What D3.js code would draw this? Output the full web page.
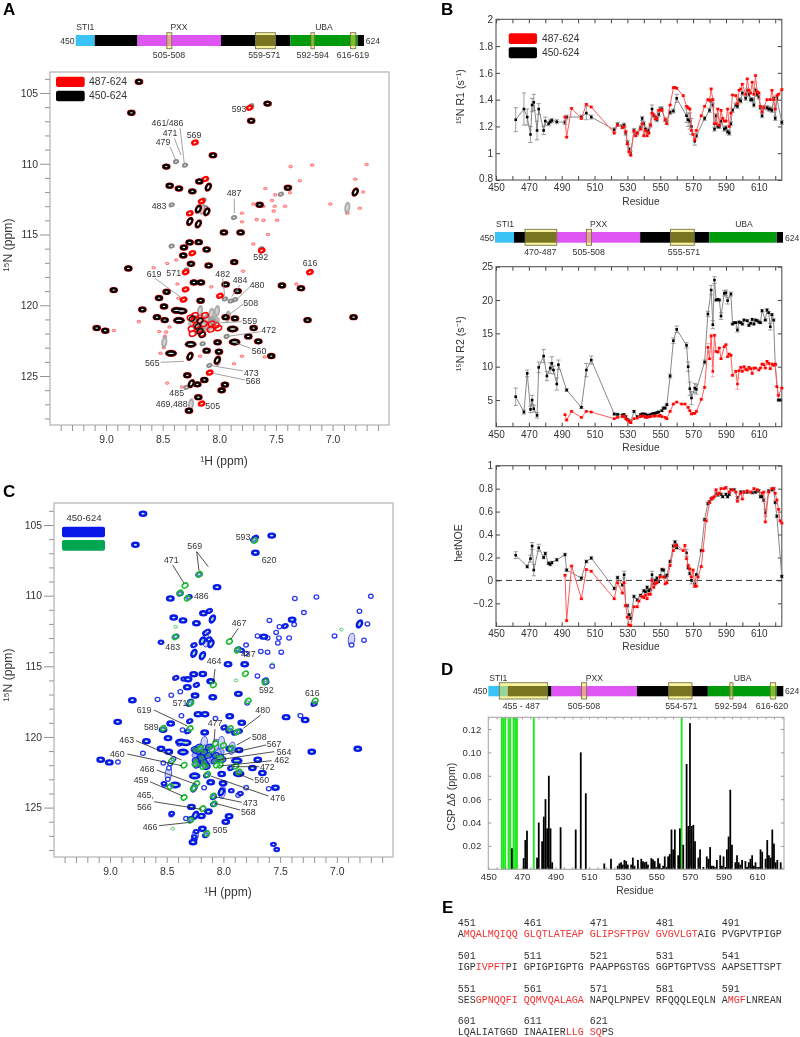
<!DOCTYPE html>
<html><head><meta charset="utf-8">
<script src="https://cdn.jsdelivr.net/npm/d3@7/dist/d3.min.js"></script>
<style>
html,body{margin:0;padding:0;background:#fff}
svg{display:block;font-family:"Liberation Sans",Arial,sans-serif;filter:blur(.3px)}
text{fill:#333}
</style></head><body><svg id="c" width="800" height="1037"></svg>
<script>
// ---------- HSQC peak tables: [1H ppm, 15N ppm] ----------
const peaksSharp=[[8.709,104.2],[7.574,105.75],[8.776,106.4],[7.718,106.96],[8.056,109.4],[8.468,110.2],[8.176,111.25],[8.438,111.55],[8.356,111.75],[8.238,111.95],[7.644,112.9],[7.959,114.85],[7.812,114.85],[7.394,111.7],[8.262,115.56],[8.182,115.54],[8.312,115.92],[8.112,116.06],[8.318,116.48],[8.25,117.07],[8.094,117.19],[7.868,116.95],[8.803,117.4],[8.224,118.39],[8.162,118.39],[7.944,118.53],[8.465,119.05],[8.932,118.93],[7.838,119.0],[7.447,118.6],[7.279,118.8],[8.532,119.49],[8.165,119.68],[8.488,120.08],[8.679,120.3],[8.55,120.84],[8.482,121.05],[7.944,120.84],[7.862,120.93],[6.815,120.84],[7.221,121.05],[9.082,121.61],[9.006,121.8],[7.697,121.61],[7.744,122.2],[7.656,122.55],[8.015,122.62],[8.112,123.21],[8.003,123.28],[7.541,123.59],[8.282,124.95],[8.194,125.59],[8.132,125.28],[7.95,125.61],[7.979,126.01],[8.185,126.5],[8.268,127.45]];
const peaksWide=[[8.376,120.36],[8.332,120.41],[8.356,121.07],[7.882,121.68],[8.426,123.4],[7.865,122.6],[8.253,122.76]];
const peaksTall=[[8.097,111.65],[6.8,112],[8.259,123.61],[8.018,123.89],[8.247,125.54],[8.26,114.08],[8.185,114.25],[8.11,113.4],[8.185,113.2]];
const peaksCluster=[[8.253,120.88],[8.215,121.02],[8.244,121.66],[8.235,122],[8.17,121.07],[8.135,121.31],[8.2,121.42],[8.176,121.73],[8.156,122],[8.067,121.31],[8.03,121.42],[8.076,121.71],[8.009,121.61],[8.126,120.72],[8.215,120.72],[8.15,122.08]];
const peaksClusterDark=[[8.19,121.5],[8.17,121.85],[8.15,122.1],[8.17,121.1],[8.24,120.95]];
const peaksRed=[[7.732,106.04],[8.215,108.5],[8.124,111.08],[8.156,112.65],[8.26,113.5],[7.626,116.13],[7.2,117.66],[8.297,117.66],[8.315,119.6],[7.994,119.33],[8.085,124.76],[8.156,126.95],[8.297,118.88],[8.238,116.32]];
const peaksGrey=[[8.382,109.85],[8.303,110.1],[7.87,113.8],[7.718,105.9],[8.42,112.9],[8.42,115.82],[8.147,122.72],[7.935,122.2],[8.088,124.25],[7.95,119.55],[7.9,119.7],[7.86,119.6],[7.456,112.15],[8.14,112.55],[8.126,113.1],[8.29,125.8],[7.63,116],[8.29,117.5]];
const peaksGreyTall=[[8.25,127],[8.17,120.4],[8.02,120.4],[8.07,120.6],[7.925,120.8],[8.485,122.6],[8.17,121],[8.11,120.95],[8.05,121.3],[8.2,121.7],[8.14,121.4],[8.01,123.9],[8.15,113.2],[6.87,113.1]];
const peaksBlob=[[8.2,121],[8.15,121],[8.1,121.15],[8.05,121.05],[8.18,121.5],[8.12,121.6],[8.22,121.3]];
const peaksFaint=[[7.37,110.2],[7.18,110.1],[6.7,110.05],[7.594,111.75],[7.506,112.2],[7.376,112.05],[7.535,112.6],[7.7,112.85],[7.61,113],[7.51,113],[7.52,113.35],[7.42,113],[7.67,113.95],[7.61,114],[7.49,114],[7.57,115],[7.8,113.5],[7.8,114.1],[7.02,112.85],[6.76,113.15],[6.73,112],[6.8,111.1],[6.87,113.5],[7.29,111.2],[8.58,117.35],[8.46,117.05],[8.38,116.8],[7.79,117.6],[8.37,118.5],[7.32,118.5],[8.36,119.5],[7.7,115.68],[8.71,121.16],[8.93,121.78],[8.53,121.85],[8.47,121.9],[8.44,121.54],[8.39,120.5],[8.49,123],[7.8,123.6],[7.87,124.13],[7.6,123.66],[8.52,123.4],[8.46,125.5],[8.33,125.78],[8.07,118.7],[8.17,123.6],[8.48,122.2]];
const peaksGreen=[[7.724,106.1],[8.212,108.49],[8.338,109.29],[8.382,109.8],[8.318,110.19],[8.426,112.92],[7.947,113.25],[7.876,113.87],[8.088,116.32],[7.632,116.11],[7.191,117.45],[7.806,115.52],[7.782,117.45],[8.288,117.59],[8.53,119.39],[8.294,119.41],[7.94,119.4],[7.88,119.65],[8.07,120.47],[7.93,120.8],[8.347,122],[8.456,121.7],[8.347,124.29],[8.47,123.5],[8.235,123.3],[8.265,123.65],[8.141,122.64],[8.088,124.17],[8.082,124.72],[8.182,125.07],[8.288,125.9],[8.147,126.84],[7.862,122.48],[7.891,122.08],[8.029,122],[8.25,121.9],[8.1,120.9],[8.2,120.8],[8.03,121.5],[8.06,122],[8.18,122.1],[8.0,120.6]];
const peaksGreenFaint=[[7.568,114.86],[8.588,117.29],[6.96,112.4],[7.33,118.44],[7.794,123.5],[8.447,126.5],[8.42,112.2],[7.89,116]];
const peaksBlueExtra=[[7.559,127.6],[7.53,127.97],[8.524,123.3],[8.456,125.42],[8.191,126.49],[8.256,127.07],[7.85,124],[7.93,123.8],[8.55,113.3],[7.84,113.87],[8.35,115.9],[8.26,127.3],[8.24,126.7]];

// ---------- relaxation tables ----------
const r1Black=[[462,1.25],[467,1.33],[469,1.27],[471,1.14],[472,1.36],[473,1.38],[475,1.17],[476,1.33],[479,1.17],[480,1.24],[482,1.22],[483,1.235],[484,1.245],[487,1.235],[492,1.23],[493,1.27],[502,1.27],[505,1.3],[508,1.27],[522,1.175],[524,1.215],[527,1.2],[528,1.21],[529,1.15],[530,1.08],[531,1.03],[532,1],[534,1.17],[535,1.14],[536,1.15],[538,1.19],[539,1.26],[540,1.22],[541,1.18],[542,1.16],[543,1.17],[544,1.21],[545,1.33],[546,1.28],[547,1.27],[548,1.25],[549,1.29],[550,1.33],[551,1.33],[553,1.25],[554,1.23],[556,1.305],[558,1.315],[560,1.41],[566,1.28],[567,1.25],[568,1.24],[569,1.2],[571,1.09],[572,1.13],[577,1.26],[580,1.32],[581,1.395],[582,1.36],[583,1.18],[584,1.28],[585,1.2],[586,1.2],[587,1.24],[589,1.18],[590,1.19],[591,1.16],[592,1.15],[593,1.22],[594,1.32],[596,1.36],[597,1.35],[598,1.4],[599,1.39],[600,1.45],[602,1.41],[603,1.47],[604,1.44],[605,1.4],[606,1.4],[607,1.36],[608,1.47],[609,1.44],[610,1.42],[611,1.34],[612,1.28],[613,1.34],[615,1.34],[616,1.33],[617,1.33],[618,1.32],[619,1.41],[620,1.26],[621,1.41],[624,1.23]];
const r1Red=[[492,1.27],[493,1.12],[496,1.335],[502,1.26],[505,1.365],[508,1.345],[522,1.15],[524,1.21],[527,1.19],[528,1.2],[529,1.16],[530,1.07],[531,1.01],[532,0.985],[534,1.165],[535,1.13],[536,1.15],[538,1.18],[539,1.22],[540,1.13],[541,1.17],[542,1.13],[543,1.15],[544,1.21],[545,1.3],[546,1.285],[547,1.255],[548,1.26],[549,1.32],[550,1.325],[551,1.32],[553,1.25],[554,1.22],[556,1.36],[558,1.49],[559,1.49],[560,1.485],[564,1.43],[566,1.35],[567,1.34],[568,1.33],[569,1.17],[570,1.14],[571,1.1],[572,1.17],[575,1.28],[577,1.35],[579,1.4],[580,1.395],[581,1.48],[582,1.4],[583,1.22],[584,1.22],[585,1.33],[586,1.21],[587,1.32],[588,1.26],[589,1.24],[590,1.24],[591,1.33],[592,1.2],[593,1.3],[594,1.435],[596,1.43],[597,1.37],[598,1.47],[599,1.48],[600,1.515],[602,1.44],[603,1.555],[604,1.47],[605,1.45],[606,1.53],[607,1.44],[608,1.58],[609,1.46],[610,1.45],[611,1.35],[612,1.31],[613,1.34],[615,1.4],[617,1.4],[618,1.47],[619,1.4],[620,1.33],[621,1.43],[622,1.44],[624,1.475]];
const r1BlackErr={462:.09,467:.12,469:.06,471:.06,472:.05,473:.06,475:.07,476:.04,479:.03,480:.03,505:.05,566:.05,567:.05,568:.06,569:.06,571:.03,560:.03,545:.03};
const r2Black=[[462,5.5],[467,3.2],[469,9],[471,3.6],[472,5],[473,3.7],[475,2.7],[476,9.9],[479,11.6],[481,8.6],[483,9.8],[484,10.5],[485,9.5],[487,7.4],[488,10.3],[493,6.5],[502,3.9],[505,9.5],[508,11],[522,2.9],[524,2.85],[527,2.75],[528,2.8],[529,2.5],[530,2.1],[531,1.9],[532,1.7],[534,3.3],[536,2.5],[538,2.8],[539,2.9],[540,2.9],[541,2.85],[542,2.7],[543,2.7],[544,2.8],[545,2.9],[546,3],[547,3],[548,3.1],[549,3.2],[551,3.4],[552,3.8],[553,3.8],[554,4.3],[556,8.6],[558,13.9],[560,15.6],[566,13.2],[567,10],[568,6.7],[569,5.3],[571,6.8],[572,6.6],[577,10.7],[579,17.9],[581,21.5],[582,16.3],[583,23],[584,20],[585,20.1],[586,20],[587,17.6],[589,21],[590,21.1],[591,19.9],[593,20.9],[594,16.4],[595,16.6],[596,16.6],[597,15.5],[598,16.7],[599,16.6],[600,16.4],[601,17],[603,16.9],[604,16.2],[605,16.5],[606,17.1],[607,16.4],[608,17],[609,16.9],[610,16.7],[611,16.6],[612,18.4],[614,17],[615,18.5],[616,18.1],[617,16],[618,17.8],[619,17],[620,10.3],[622,5],[623,5]];
const r2Red=[[492,2.8],[493,2],[496,3.3],[502,2.4],[505,3.3],[508,3.2],[522,2.2],[524,2.4],[527,2.5],[528,2.6],[529,2.2],[530,2],[531,1.8],[532,1.6],[534,2.2],[536,2.3],[538,2.5],[539,2.6],[540,2.6],[541,2.4],[542,2.4],[543,2.5],[544,2.5],[546,2.6],[547,2.6],[549,2.6],[550,2.7],[551,2.5],[553,2.4],[554,2.2],[556,3.3],[558,4.4],[560,4.7],[563,4.4],[565,4.4],[567,3.9],[568,3.4],[569,2.9],[570,3],[571,3],[572,3.3],[575,5.1],[577,6.9],[579,12.9],[580,11.2],[581,14.6],[582,9.3],[583,14.7],[584,12.3],[585,12.2],[586,12.8],[587,11.2],[589,13],[590,13.3],[591,11.5],[592,11.9],[593,11.7],[594,8.7],[596,9.3],[597,7.4],[598,9.4],[599,9.9],[600,9.3],[601,10],[602,9.6],[603,9.5],[604,9.9],[605,9.7],[606,9],[607,9.8],[608,9.8],[610,9.5],[611,9.8],[612,10.4],[613,10.3],[614,9.8],[615,10.8],[616,10.5],[617,9.7],[618,10.4],[619,10.2],[620,10.4],[621,7],[622,5.7],[624,6.8]];
const r2BlackErr={462:1.3,467:.3,469:.5,471:.5,472:.7,473:.5,475:.4,476:.8,479:1,481:.7,483:.8,484:1,485:.6,487:.9,488:.7,493:.2,505:1,508:.6,556:.3,558:.4,560:.5,566:.4,567:.7,568:1,569:1,571:.7,572:.7,577:.3,579:.4,581:.7,582:.6,583:.5,587:.5,589:.4,590:.4,591:.5,593:.3,597:.3,612:.2,615:.2,617:.5};
const r2RedErr={597:.8,582:.8,579:.6,581:.3};
const noeBlack=[[462,.22],[469,.12],[471,.19],[472,.3],[473,.09],[476,.285],[479,.2],[480,.235],[482,.15],[483,.14],[484,.155],[487,.18],[492,.225],[493,.09],[502,.02],[505,.165],[508,.195],[522,-.07],[524,.025],[527,-.04],[528,.05],[529,-.22],[530,-.22],[531,-.3],[532,-.33],[534,-.14],[536,-.17],[538,-.13],[540,-.09],[541,-.1],[542,-.06],[543,-.09],[544,-.08],[545,.05],[546,-.03],[547,0],[548,.02],[549,-.01],[550,.04],[551,.095],[552,.09],[553,.03],[554,.045],[556,.165],[558,.3],[559,.335],[560,.285],[566,.24],[567,.11],[568,.06],[569,0],[571,-.03],[572,.05],[575,.26],[577,.53],[579,.67],[580,.685],[581,.71],[582,.72],[584,.76],[585,.745],[587,.75],[588,.73],[590,.75],[591,.73],[592,.75],[593,.79],[595,.79],[597,.72],[599,.77],[601,.77],[603,.77],[606,.765],[608,.77],[610,.78],[611,.73],[612,.73],[613,.7],[614,.59],[616,.78],[618,.79],[619,.8],[620,.68],[621,.56],[624,.035]];
const noeRed=[[492,.045],[493,-.35],[496,.125],[502,-.16],[505,.095],[508,.08],[522,-.16],[524,-.02],[527,-.11],[528,-.02],[529,-.22],[530,-.32],[531,-.39],[532,-.395],[534,-.23],[536,-.23],[537,-.18],[539,-.14],[540,-.15],[541,-.13],[542,-.16],[543,-.12],[544,-.12],[545,0],[546,-.06],[547,-.03],[548,-.02],[550,.03],[552,.03],[553,-.03],[554,-.02],[556,.13],[558,.26],[559,.3],[560,.31],[564,.26],[565,.305],[566,.19],[567,.13],[568,.1],[569,.03],[570,.09],[571,-.05],[572,-.05],[573,.03],[575,.12],[576,.26],[578,.52],[580,.68],[581,.71],[582,.72],[583,.73],[584,.79],[585,.75],[586,.76],[587,.8],[589,.8],[590,.81],[592,.77],[594,.79],[596,.77],[597,.69],[599,.76],[600,.71],[601,.77],[603,.78],[605,.77],[607,.8],[609,.79],[612,.76],[613,.77],[614,.51],[616,.77],[618,.8],[619,.8],[620,.76],[621,.7],[622,.62],[623,.52],[624,.5]];
const noeBlackErr={462:.03,471:.03,472:.03,473:.05,476:.03,545:.03,528:.03,566:.03,569:.03,571:.03,614:.03};

// ---------- CSP bars ----------
const cspBars=[[464,.018],[471,.0095],[472,.025],[473,.033],[479,.01],[480,.04],[482,.024],[483,.045],[484,.06],[485,.035],[486,.08],[487,.035],[488,.006],[493,.036],[502,.034],[505,.1],[508,.065],[519,.005],[523,.009],[527,.003],[528,.005],[529,.006],[530,.004],[531,.008],[532,.007],[533,.004],[535,.004],[536,.01],[537,.003],[539,.008],[541,.009],[542,.007],[543,.006],[544,.0065],[545,.004],[547,.0095],[548,.0085],[549,.007],[550,.002],[551,.0095],[552,.005],[553,.001],[554,.003],[555,.011],[556,.002],[557,.011],[558,.013],[559,.034],[560,.017],[561,.034],[563,.012],[564,.035],[566,.021],[568,.09],[569,.037],[570,.125],[571,.037],[572,.038],[573,.024],[575,.01],[576,.017],[578,.002],[580,.011],[581,.009],[582,.019],[583,.003],[584,.003],[585,.002],[586,.008],[588,.012],[589,.003],[590,.011],[591,.002],[592,.017],[593,.028],[594,.068],[595,.021],[597,.006],[598,.012],[599,.006],[600,.004],[601,.008],[603,.007],[604,.002],[605,.006],[606,.009],[607,.012],[608,.003],[609,.006],[610,.002],[611,.002],[612,.017],[613,.015],[615,.009],[616,.025],[617,.012],[618,.01],[619,.034],[620,.022],[621,.006],[622,.008],[624,.006]];
const cspMissing=[458,459,460,462,463,465,466,467,477,565];

// ---------- domain architecture ----------
const domainColors={blue:'#3cc3f6',black:'#000',magenta:'#df55f3',green:'#009b0c'};
const segments=[[450,461.5,'blue'],[461.5,487.3,'black'],[487.3,537.7,'magenta'],[537.7,579.5,'black'],[579.5,620.2,'green'],[620.2,624,'black']];
const boxesA=[[505,508,'505-508'],[558.5,570.5,'559-571'],[592,594,'592-594'],[615.8,619,'616-619']];
const boxesB=[[468.2,487.3,'470-487'],[505.2,508.3,'505-508'],[556,570.4,'555-571']];
const boxesD=[[456.5,485,'455 - 487'],[505,508,'505-508'],[556.4,570.1,'554-571'],[592.5,594.3,'592-594'],[616.3,619.5,'616-620']];

// ---------- sequence ----------
const seqStarts=[[451,461,471,481,491],[501,511,521,531,541],[551,561,571,581,591],[601,611,621]];
const seqRows=[
 [['A',0],['MQALMQIQQ GLQTLATEAP GLIPSFTPGV GVGVLGT',1],['AIG PVGPVTPIGP',0]],
 [['IGP',0],['IVPFT',1],['PI GPIGPIGPTG PAAPPGSTGS GGPTGPTVSS AAPSETTSPT',0]],
 [['SES',0],['GPNQQFI QQMVQALAGA',1],[' NAPQLPNPEV RFQQQLEQLN A',0],['MGF',1],['LNREAN',0]],
 [['LQALIATGGD INAAIER',0],['LLG SQ',1],['PS',0]]];

// ---------- label layouts (text, x, y) and their leader lines (x1,y1,x2,y2) ----------
const labelsA=[['593',239,109.3],['461/486',167.5,123],['471',170,133],['479',163,142],['569',194,135],['483',159,206],['487',234,193],['592',260.7,257.3],['616',310,263.3],['619',154,274.3],['571',173.7,272.7],['482',222.7,274],['484',240,280],['480',257,284.7],['508',250.7,303],['559',249.7,320.7],['472',268.7,330],['560',259,350.7],['565',152.3,363.3],['473',251.3,373],['568',253,381.3],['485',176.7,392.7],['469,488',171.7,403.7],['505',212.7,405.7]];
const leadersA=[[180,128,184.3,163.3],[174.3,138.3,181,155],[170,146.7,175.7,160],[234.3,198.7,234.3,213.3],[155,278.3,181,297.3],[222.7,278.3,224.7,295.7],[240,285,231.7,296.7],[250,286.7,233.3,302.7],[243.3,304,230,314],[241.7,321.7,213.3,323.3],[260.7,331.7,230,336],[250.7,348.3,235,342.7],[160.7,362.3,184,361.3],[243.3,371,211.7,365.7],[245,380,213.3,373.3]];
const labelsC=[['593',243,537.3],['569',194.7,546.3],['620',269,560.3],['471',171.3,560],['486',201.3,596.3],['467',239,622.7],['483',172.7,646.7],['487',248.3,654],['464',214,660.7],['592',266.3,690],['616',312.3,693],['571',180,703],['619',144,710.3],['480',262.7,710.3],['477',215,723.3],['589',151.3,727],['463',126.7,740],['508',259.3,737],['567',274,744.3],['460',117.3,754],['564',284,752],['462',281.7,760],['472',267.3,767],['468',147,769],['459',141,780],['560',261.7,780],['476',277.7,798.3],['465,',145.3,795],['566',144.3,806.7],['473',250.3,802.7],['568',248.3,812.3],['466',150,826.7],['505',220,830.3]];
const leadersC=[[196.7,551.7,199,570.7],[196.7,551.7,208.3,566.7],[172.7,565,184,583.3],[238.3,628.3,230.7,639.3],[215,669,213.3,683.3],[154,710,187.3,726],[260.7,715,243.3,728.3],[215,729,214,741.7],[136,740.7,181.7,760],[250.7,737.3,236.7,745],[266,745,221.7,755],[127.3,754,181.7,765.7],[274,751.7,216.7,760],[271.7,760.7,220,766],[259.3,766.7,233.3,766.7],[156.7,770,195,784],[150,781.7,182.7,796],[253.3,780,237.3,773.3],[268.3,796,210.7,776],[154,801.7,201.7,809.3],[241.7,802.3,215,796.7],[240,810,215,803.3],[159,825.7,190.7,822.3]];

const svg=d3.select('#c');
function txt(x,y,s,o={}){const t=svg.append('text').attr('x',x).attr('y',y).attr('dominant-baseline','central').attr('text-anchor',o.a||'middle').attr('font-size',o.fs||10.4).text(s);
 if(o.rot!==undefined)t.attr('transform',`rotate(${o.rot} ${x} ${y})`);if(o.w)t.attr('font-weight',o.w);if(o.fill)t.style('fill',o.fill);return t;}

// panel letters
[['A',3,15],['B',441,15],['C',3,497],['D',441,675],['E',442,913]].forEach(d=>svg.append('text').attr('x',d[1]).attr('y',d[2]).attr('font-size',17).attr('font-weight','bold').style('fill','#000').text(d[0]));

function domainBar(x0,x1,y0,y1,by0,by1,boxes,names,nameY,endL,endR,midY){
 const x=d3.scaleLinear().domain([450,624]).range([x0,x1]);
 svg.selectAll(null).data(segments).enter().append('rect').attr('x',d=>x(d[0])).attr('width',d=>x(d[1])-x(d[0])).attr('y',y0).attr('height',y1-y0).attr('fill',d=>domainColors[d[2]]);
 svg.selectAll(null).data(boxes).enter().append('rect').attr('x',d=>x(d[0])).attr('width',d=>x(d[1])-x(d[0])).attr('y',by0).attr('height',by1-by0)
  .attr('fill','#f2e840').attr('fill-opacity',.5).attr('stroke','#77754f').attr('stroke-width',.9);
 names.forEach(n=>txt(n[1],nameY,n[0],{fs:8.6}));
 txt(endL,midY,'450',{a:'end',fs:8.6});txt(endR,midY,'624',{a:'start',fs:8.6});
}
domainBar(75.7,364,35,46,32.7,48.7,boxesA,[['STI1',85.3],['PXX',179],['UBA',324]],27.3,74.5,365.7,40.7);
[[169],[264.3],[312.7],[353]].forEach((p,i)=>txt(p[0],55,boxesA[i][2],{fs:8.8}));
domainBar(495,783,232,242.7,229.3,245.3,boxesB,[['STI1',505],['PXX',598.7],['UBA',744]],224,494,785,238);
[[540.3],[588.7],[684]].forEach((p,i)=>txt(p[0],251.7,boxesB[i][2],{fs:8.8}));
domainBar(488.3,783.3,686,696.3,682.7,699,boxesD,[['STI1',498.3],['PXX',594.3],['UBA',742.7]],677.7,487.3,785,691.3);
[[521.3],[584],[681.3],[731],[772]].forEach((p,i)=>txt(p[0],706,boxesD[i][2],{fs:8.8}));

// peak panel frame & axes
function hsqc(left,right,top,bottom,h9,hPer,n105,nPer,titleX,titleYc,titleY2){
 const sx=d3.scaleLinear().domain([9,7]).range([h9,h9+2*hPer]);
 const sy=d3.scaleLinear().domain([105,125]).range([n105,n105+20*nPer]);
 const clip='cl'+left;
 svg.append('clipPath').attr('id',clip).append('rect').attr('x',left).attr('y',top).attr('width',right-left).attr('height',bottom-top);
 const xt=d3.range(66,95).map(d=>d/10), yt=d3.range(104,129);
 const ax=d3.axisBottom(sx).tickValues(xt).tickSize(6).tickPadding(5).tickFormat(d=>Math.round(d*10)%5===0?d3.format('.1f')(d):'');
 const ay=d3.axisLeft(sy).tickValues(yt).tickSize(5).tickPadding(7).tickFormat(d=>d%5===0?d:'');
 const gx=svg.append('g').attr('transform',`translate(0,${bottom})`).call(ax);
 const gy=svg.append('g').attr('transform',`translate(${left},0)`).call(ay);
 [gx,gy].forEach(a=>{a.select('.domain').remove();a.selectAll('line').attr('stroke','#777').attr('stroke-width',.8);a.selectAll('text').attr('font-size',10.4).attr('font-family','inherit')});
 gy.selectAll('.tick').filter(d=>d%5===0).select('line').attr('x2',-10);
 gy.selectAll('.tick').filter(d=>d%5===0).select('text').attr('x',-12);
 svg.append('rect').attr('x',left).attr('y',top).attr('width',right-left).attr('height',bottom-top).attr('fill','none').attr('stroke','#aaa').attr('stroke-width',1.1);
 txt(titleX,titleYc,'¹⁵N (ppm)',{rot:-90,fs:12.2});
 txt(titleY2[0],titleY2[1],'¹H (ppm)',{fs:12});
 return {sx,sy,clip};
}
function peaks(P,data,o){
 const g=svg.append('g').attr('clip-path',`url(#${P.clip})`);
 (o.layers||[]).forEach(l=>{
  g.selectAll(null).data(data).enter().append('ellipse')
   .attr('cx',d=>P.sx(d[0])).attr('cy',d=>P.sy(d[1]))
   .attr('rx',l.rx).attr('ry',l.ry)
   .attr('transform',d=>`rotate(${l.rot||0} ${P.sx(d[0])} ${P.sy(d[1])})`)
   .attr('fill',l.fill||'none').attr('fill-opacity',l.fo===undefined?1:l.fo)
   .attr('stroke',l.stroke||'none').attr('stroke-width',l.sw||0);
 });
}
function annotate(labels,leaders,col,fs){
 svg.selectAll(null).data(leaders).enter().append('line').attr('x1',d=>d[0]).attr('y1',d=>d[1]).attr('x2',d=>d[2]).attr('y2',d=>d[3]).attr('stroke',col).attr('stroke-width',.8);
 labels.forEach(l=>txt(l[1],l[2],l[0],{fs:fs}));
}

// PANEL A
const PA=hsqc(50,389,72,425,106,113.3,93,14.15,8,245,[224,461]);
peaks(PA,peaksFaint,{layers:[{rx:2.2,ry:1.8,fill:'#ff8080'},{rx:.7,ry:.5,fill:'#fff'}]});
peaks(PA,peaksBlob,{layers:[{rx:6.5,ry:4.5,fill:'#a8a8a8',fo:.8}]});
peaks(PA,peaksGrey,{layers:[{rx:3.2,ry:2.4,rot:-20,fill:'#8a8a8a'},{rx:1.2,ry:.7,rot:-20,fill:'#ddd'}]});
peaks(PA,peaksGreyTall,{layers:[{rx:3,ry:6,fill:'#999',fo:.8,rot:8},{rx:1.3,ry:3.2,fill:'#ddd',fo:.8,rot:8}]});
peaks(PA,peaksCluster,{layers:[{rx:3.4,ry:2.6,fill:'none',stroke:'#f00',sw:1.5,rot:-20}]});
peaks(PA,peaksClusterDark,{layers:[{rx:3,ry:2.2,fill:'none',stroke:'#111',sw:1.4,rot:-35}]});
peaks(PA,peaksRed,{layers:[{rx:4,ry:3,rot:-20,fill:'#f00'},{rx:1.4,ry:.7,rot:-20,fill:'#fff'}]});
peaks(PA,peaksSharp,{layers:[{rx:4.4,ry:3.2,fill:'#e00'},{rx:3.8,ry:2.85,fill:'#000'},{rx:1.3,ry:.65,fill:'#fff'}]});
peaks(PA,peaksWide,{layers:[{rx:6,ry:3.6,fill:'#e00'},{rx:5.4,ry:3.2,fill:'#000'},{rx:3,ry:.7,fill:'#fff'}]});
peaks(PA,peaksTall,{layers:[{rx:3.4,ry:5,rot:28,fill:'#e00'},{rx:2.9,ry:4.4,rot:28,fill:'#000'},{rx:.9,ry:2,rot:28,fill:'#fff'}]});
annotate(labelsA,leadersA,'#8a8a8a',8.8);
svg.append('rect').attr('x',56).attr('y',76.7).attr('width',28.7).attr('height',10.4).attr('rx',2).attr('fill','#f00');
svg.append('rect').attr('x',56).attr('y',90.7).attr('width',28.7).attr('height',10.6).attr('rx',2).attr('fill','#000');
txt(89,81.7,'487-624',{a:'start',fs:10.4});txt(89,95.7,'450-624',{a:'start',fs:10.4});

// PANEL C
const PC=hsqc(54,393,503,857,110,113.4,525,14.13,8,675,[228,892]);
peaks(PC,peaksGreenFaint,{layers:[{rx:1.8,ry:1.4,fill:'none',stroke:'#27c24c',sw:.8}]});
peaks(PC,peaksBlob,{layers:[{rx:6.5,ry:4.5,fill:'#7f8cf0',fo:.7,stroke:'#3a48e8',sw:.7}]});
peaks(PC,peaksGreyTall,{layers:[{rx:3.2,ry:6.2,fill:'#c8ccf5',fo:.8,stroke:'#4a58e8',sw:1,rot:8}]});
peaks(PC,peaksFaint,{layers:[{rx:2.3,ry:2.1,fill:'#fff',stroke:'#2a38ee',sw:1.3}]});
peaks(PC,peaksRed.concat(peaksGrey),{layers:[{rx:3.8,ry:2.9,rot:-20,fill:'#1020e6'},{rx:1.2,ry:.65,rot:-20,fill:'#fff'}]});
peaks(PC,peaksBlueExtra,{layers:[{rx:3.4,ry:2.7,fill:'#1020e8'},{rx:1.1,ry:.6,fill:'#fff'}]});
peaks(PC,peaksSharp,{layers:[{rx:4.4,ry:3.2,fill:'#0818e6'},{rx:1.7,ry:.9,fill:'#a8e4b4'},{rx:.9,ry:.4,fill:'#fff'}]});
peaks(PC,peaksWide,{layers:[{rx:5.8,ry:3.6,fill:'#0818e6'},{rx:3,ry:.9,fill:'#a8e4b4'}]});
peaks(PC,peaksTall,{layers:[{rx:3.4,ry:5,rot:28,fill:'#0818e6'},{rx:1.1,ry:2.2,rot:28,fill:'#a8e4b4'}]});
peaks(PC,peaksCluster.concat(peaksClusterDark),{layers:[{rx:3.6,ry:2.8,fill:'#3a4aee',fo:.7,stroke:'#0818e0',sw:1,rot:-20},{rx:1.9,ry:1.2,fill:'none',stroke:'#2a9a50',sw:1,rot:-20}]});
peaks(PC,peaksGreen,{layers:[{rx:3,ry:2.3,rot:-35,fill:'#fff',fo:.35,stroke:'#14b828',sw:1.5}]});
annotate(labelsC,leadersC,'#222',8.8);
svg.append('rect').attr('x',62).attr('y',526.7).attr('width',43).attr('height',10.6).attr('rx',2).attr('fill','#0818e6');
svg.append('rect').attr('x',62).attr('y',540).attr('width',43).attr('height',10.7).attr('rx',2).attr('fill','#00a651');
txt(84,517.7,'450-624',{fs:9.6});

// Relaxation panels
function relax(top,bottom,yDom,yTicks,fmt,title,titleX,resY,series,zero){
 const x=d3.scaleLinear().domain([450,624]).range([496,781.8]);
 const y=d3.scaleLinear().domain(yDom).range([bottom,top]);
 const xt=d3.range(450,621,10);
 const axB=d3.axisBottom(x).tickValues(xt).tickSize(-4).tickPadding(4).tickFormat(d=>d%20===10?d:'');
 const axT=d3.axisTop(x).tickValues(xt).tickSize(-4).tickFormat('');
 const axL=d3.axisLeft(y).tickValues(yTicks).tickSize(-4).tickPadding(3).tickFormat(fmt);
 const axR=d3.axisRight(y).tickValues(yTicks).tickSize(-4).tickFormat('');
 [[axB,0,bottom],[axT,0,top],[axL,496,0],[axR,781.8,0]].forEach(a=>{const g=svg.append('g').attr('transform',`translate(${a[1]},${a[2]})`).call(a[0]);
  g.select('.domain').remove();g.selectAll('line').attr('stroke','#444').attr('stroke-width',1);g.selectAll('text').attr('font-size',10).attr('font-family','inherit');
  if(a[0]===axL)g.selectAll('.tick').filter(d=>d===yDom[0]).select('text').attr('transform','translate(0,-2)');});
 svg.append('rect').attr('x',496).attr('y',top).attr('width',285.8).attr('height',bottom-top).attr('fill','none').attr('stroke','#555').attr('stroke-width',1.1);
 if(zero)svg.append('line').attr('x1',496).attr('x2',781.8).attr('y1',y(0)).attr('y2',y(0)).attr('stroke','#333').attr('stroke-width',1).attr('stroke-dasharray','6,4');
 series.forEach(s=>{
  const g=svg.append('g');
  const rows=s.data;
  g.append('path').datum(rows).attr('fill','none').attr('stroke',s.line).attr('stroke-width',1).attr('d',d3.line().x(d=>x(d[0])).y(d=>y(d[1])));
  const e=r=>s.err[r[0]]===undefined?s.defErr:s.err[r[0]];
  g.selectAll(null).data(rows).enter().append('path').attr('fill','none').attr('stroke',s.eb).attr('stroke-width',.7)
   .attr('d',d=>{const a=y(d[1]+e(d)),b=y(d[1]-e(d)),c=x(d[0]);return `M${c-2.2},${a}H${c+2.2}M${c},${a}V${b}M${c-2.2},${b}H${c+2.2}`;});
  g.selectAll(null).data(rows).enter().append('rect').attr('x',d=>x(d[0])-1.3).attr('y',d=>y(d[1])-1.3).attr('width',2.6).attr('height',2.6).attr('fill',s.pt);
 });
 txt(titleX,(top+bottom)/2-3,title,{rot:-90,fs:10.6});
 txt(641,resY,'Residue',{fs:10.2});
}
const redS=(d,e,def)=>({data:d,line:'#ff5a5a',eb:'#ff8a8a',pt:'#f00',err:e,defErr:def});
const blkS=(d,e,def)=>({data:d,line:'#888',eb:'#777',pt:'#000',err:e,defErr:def});
relax(19.3,180,[.8,2],[.8,1,1.2,1.4,1.6,1.8,2],d3.format('~g'),'¹⁵N R1 (s⁻¹)',460,201.7,[blkS(r1Black,r1BlackErr,.015),redS(r1Red,{},.006)]);
relax(266.7,426.7,[1,25],[5,10,15,20,25],d3.format('d'),'¹⁵N R2 (s⁻¹)',460,447.3,[blkS(r2Black,r2BlackErr,.15),redS(r2Red,r2RedErr,.1)]);
relax(465.7,626.3,[-.4,1],[-.2,0,.2,.4,.6,.8,1],d3.format('~g'),'hetNOE',458,646.7,[blkS(noeBlack,noeBlackErr,.012),redS(noeRed,{},.008)],true);
svg.append('rect').attr('x',508.7).attr('y',33.3).attr('width',28.3).attr('height',10.7).attr('rx',2).attr('fill','#f00');
svg.append('rect').attr('x',508.7).attr('y',47.3).attr('width',28.3).attr('height',11).attr('rx',2).attr('fill','#000');
txt(542,38.7,'487-624',{a:'start',fs:10.2});txt(542,52.7,'450-624',{a:'start',fs:10.2});

// PANEL D
(function(){
 const x=d3.scaleLinear().domain([450,626]).range([488.3,784]);
 const y=d3.scaleLinear().domain([0,.13]).range([869.3,717.3]);
 const w=x(451)-x(450);
 svg.selectAll(null).data(cspMissing).enter().append('rect').attr('x',d=>x(d)-w/2).attr('width',w+.2).attr('y',y(.13)).attr('height',y(0)-y(.13)).attr('fill','#1fe81f');
 svg.selectAll(null).data(cspBars).enter().append('rect').attr('x',d=>x(d[0])-w/2).attr('width',w+.1).attr('y',d=>y(d[1])).attr('height',d=>y(0)-y(d[1])).attr('fill','#000');
 const xb=d3.axisBottom(x).tickValues(d3.range(450,626,5)).tickSize(-2).tickPadding(4).tickFormat(d=>d%20===10?d:'');
 const xt=d3.axisTop(x).tickValues(d3.range(450,626,5)).tickSize(-2).tickFormat('');
 const yl=d3.axisLeft(y).tickValues(d3.range(.02,.121,.02)).tickSize(-3).tickPadding(7).tickFormat(d3.format('.2f'));
 const yr=d3.axisRight(y).tickValues(d3.range(.02,.121,.02)).tickSize(-3).tickFormat('');
 [[xb,0,869.3],[xt,0,717.3],[yl,488.3,0],[yr,784,0]].forEach(a=>{const g=svg.append('g').attr('transform',`translate(${a[1]},${a[2]})`).call(a[0]);
  g.select('.domain').remove();g.selectAll('line').attr('stroke','#777').attr('stroke-width',.8);g.selectAll('text').attr('font-size',9.6).attr('font-family','inherit');});
 svg.append('rect').attr('x',488.3).attr('y',717.3).attr('width',295.7).attr('height',152).attr('fill','none').attr('stroke','#aaa').attr('stroke-width',1.1);
 txt(450.7,796.7,'CSP Δδ (ppm)',{rot:-90,fs:10.6});
 txt(635,890.7,'Residue',{fs:10.2});
})();

// PANEL E
seqRows.forEach((row,i)=>{
 const numY=926+32.8*i, seqY=936.9+32.8*i;
 seqStarts[i].forEach((n,k)=>{
  svg.append('text').attr('x',457.7+66*k).attr('y',numY).attr('font-family','"Liberation Mono",monospace').attr('font-size',10).style('fill','#333').text(n);
 });
 const t=svg.append('text').attr('x',457.7).attr('y',seqY).attr('font-family','"Liberation Mono",monospace').attr('font-size',10).style('white-space','pre');
 row.forEach(p=>t.append('tspan').text(p[0]).style('fill',p[1]?'#f03030':'#333'));
});
</script></body></html>
